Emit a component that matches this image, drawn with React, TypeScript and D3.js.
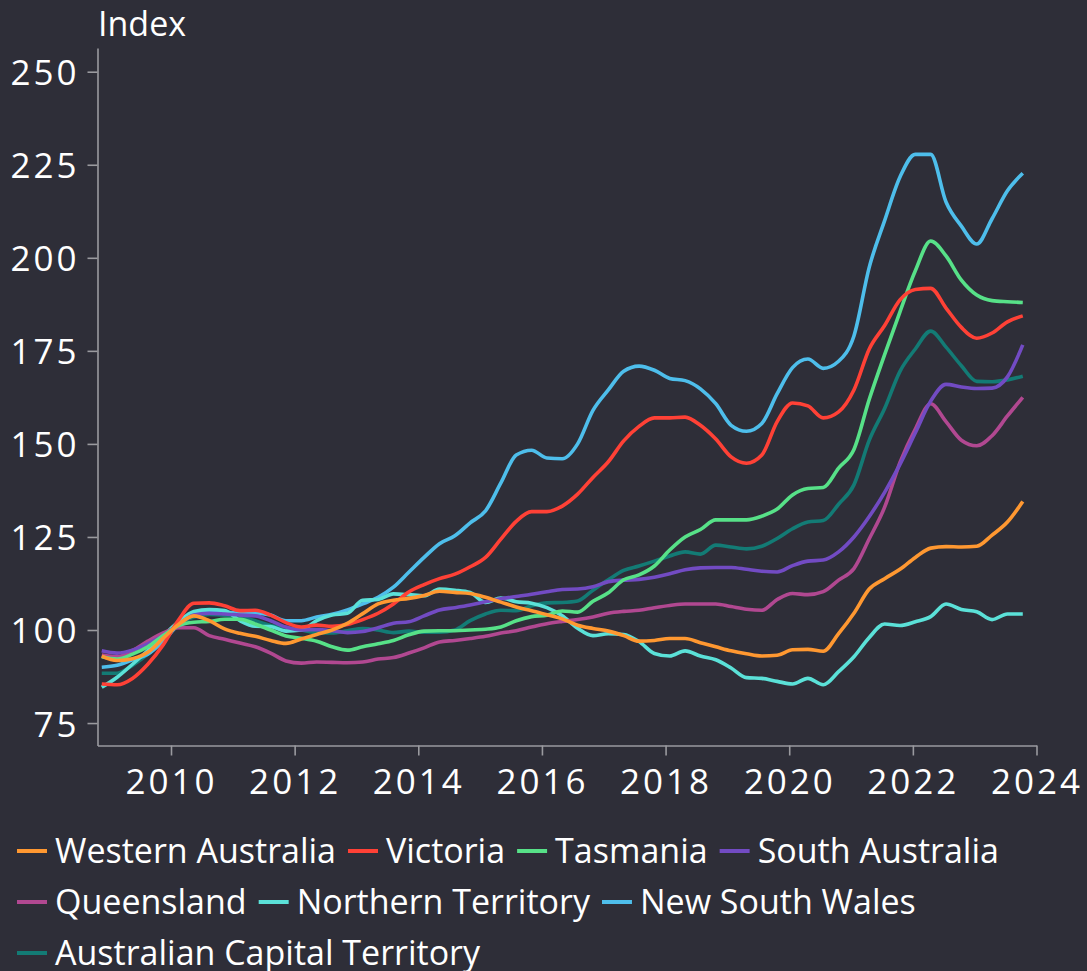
import React, { useEffect, useRef } from "react";
import * as d3 from "d3";

const W = 1087;
const H = 971;

// quarterly sample positions (decimal years), Nov 2008 .. Oct 2023
const time: number[] = d3.range(61).map((i) => 2008.88 + i * 0.2483);

const yearTicks = [2010, 2012, 2014, 2016, 2018, 2020, 2022, 2024];
const indexTicks = [75, 100, 125, 150, 175, 200, 225, 250];

const westernAustralia = [
  93, 91.8, 92.3, 94, 97.8, 101.5, 103.8, 102.5, 100.3, 99.1, 98.3, 97.2, 96.4, 97.6, 98.8, 100,
  101.8, 104.4, 107, 108, 108.5, 109.3, 110.4, 110.1, 109.8, 108.8, 107.5, 106.2, 105.2, 104.1,
  103, 101.3, 100.4, 99.7, 98.5, 97, 97.2, 97.7, 97.7, 96.6, 95.5, 94.4, 93.6, 93, 93.2, 94.7,
  94.8, 94.3, 99, 104.5, 111, 113.8, 116.3, 119.5, 122, 122.4, 122.3, 122.5, 125.5, 129, 134.5,
];
const victoria = [
  85.5, 85.3, 87, 90.8, 96, 102.7, 107.2, 107.3, 106.5, 105.2, 105.3, 104, 102, 100.8, 101.3, 101,
  101.5, 102.8, 104.5, 107, 110.2, 112.2, 113.8, 115, 117, 119.5, 124.4, 129.2, 131.8, 131.8,
  133.3, 136.5, 141, 145.2, 150.8, 154.7, 157, 157, 157.2, 155, 151.3, 146.5, 144.8, 147, 156, 161,
  160.2, 157, 158.6, 164.5, 175.5, 181.8, 188.7, 191.5, 191.8, 186.5, 181.3, 178.4, 179.8, 182.8,
  184.4,
];
const tasmania = [
  92.8, 92.2, 93.5, 95.5, 98.5, 101.2, 102.1, 102.3, 102.9, 102.9, 101.6, 100, 98.4, 97.8, 97, 95.5,
  94.6, 95.5, 96.3, 97.2, 98.7, 99.7, 99.8, 99.8, 100, 100.2, 100.8, 102.5, 103.6, 104, 105.1,
  104.8, 107.7, 110, 113.5, 114.8, 117.2, 121.5, 125, 127, 129.6, 129.6, 129.6, 130.6, 132.5, 136.3,
  138, 138.3, 143.5, 148.5, 162, 174, 185.5, 196.5, 204.5, 200.5, 194, 190, 188.5, 188.2, 188,
];
const southAustralia = [
  94.4, 93.8, 94.6, 96.3, 98.5, 101.5, 104, 104.5, 104.3, 104, 103.8, 102.5, 100.8, 100, 100.1,
  99.8, 99.3, 99.6, 100.6, 101.8, 102.2, 103.8, 105.4, 106, 106.7, 107.6, 108.4, 109, 109.6, 110.3,
  110.9, 111, 111.6, 113, 113.4, 113.6, 114.2, 115.1, 116.2, 116.7, 116.8, 116.8, 116.3, 115.8,
  115.6, 117.3, 118.5, 118.8, 121, 125, 130.5, 137, 144.5, 153, 161.5, 166, 165.3, 164.9, 165, 168,
  176.6,
];
const queensland = [
  93.3, 92.8, 94.5, 97, 99.2, 100.6, 100.6, 98.5, 97.5, 96.5, 95.5, 93.8, 91.7, 91.1, 91.4, 91.3,
  91.2, 91.4, 92.2, 92.6, 93.8, 95.2, 96.8, 97.2, 97.7, 98.3, 99.2, 99.8, 100.8, 101.7, 102.3,
  102.8, 103.5, 104.5, 105, 105.3, 106, 106.6, 107, 107, 107, 106.3, 105.6, 105.3, 108.2, 109.8,
  109.5, 110.3, 113.4, 116.5, 124.5, 133, 145, 154, 160.8, 156, 151, 149.5, 152.2, 157.5, 162.5,
];
const northernTerritory = [
  84.6, 87.3, 90.8, 94.5, 98.5, 102.2, 105, 105.5, 105.2, 102.5, 101, 100.9, 99.7, 100, 102.5, 104,
  104.5, 108, 108.2, 109.7, 109.5, 109.2, 111, 110.7, 110.1, 107.4, 108.6, 107.6, 107.2, 106, 103.8,
  100.5, 98.5, 99, 98.8, 96.9, 93.7, 93, 94.4, 93, 92, 89.8, 87.2, 87, 86.2, 85.5, 87, 85.3, 88.8,
  92.8, 98, 101.6, 101.2, 102.2, 103.6, 107, 105.5, 104.9, 102.8, 104.3, 104.3,
];
const newSouthWales = [
  90, 90.5, 92, 93.5, 97, 101.5, 104.5, 105, 104.8, 104.5, 104.5, 104, 102.5, 102.5, 103.5, 104.2,
  105.4, 107, 108.8, 111.5, 115.5, 119.5, 123.2, 125.3, 128.8, 132, 139.5, 147, 148.3, 146.2, 146,
  150, 159, 164.5, 169.5, 170.9, 169.8, 167.6, 167, 164.8, 160.8, 155, 153.4, 155.5, 163.5, 170.5,
  172.8, 170.3, 172.2, 179, 197.5, 210, 221.7, 227.8, 227.8, 215, 208.5, 203.7, 210.5, 218, 222.7,
];
const australianCapitalTerritory = [
  88.4, 88.4, 90.5, 93.5, 97.5, 101.5, 103.5, 104.2, 104, 103.5, 102.5, 101.2, 100.5, 100, 99.3,
  99.2, 99.8, 100.4, 100, 99.3, 99.7, 99.4, 99.4, 100, 102.5, 104.3, 105.3, 105.2, 106.5, 107.3,
  107.4, 107.8, 110.7, 113.5, 116, 117.2, 118.5, 119.9, 121, 120.4, 122.8, 122.3, 121.8, 122.5,
  124.6, 127.2, 129, 129.4, 133.8, 139, 151, 159.5, 169.5, 175.5, 180.3, 176, 171, 166.8, 166.7,
  167.2, 168.2,
];

const seriesNames = [
  "Western Australia",
  "Victoria",
  "Tasmania",
  "South Australia",
  "Queensland",
  "Northern Territory",
  "New South Wales",
  "Australian Capital Territory",
];
const seriesColors = [
  "#FF9831",
  "#FF4136",
  "#57E188",
  "#724BC3",
  "#B14891",
  "#5BE1D8",
  "#4EBEEB",
  "#137B75",
];
const seriesValues = [
  westernAustralia,
  victoria,
  tasmania,
  southAustralia,
  queensland,
  northernTerritory,
  newSouthWales,
  australianCapitalTerritory,
];

const BG = "#2E2E38";
const AXIS = "#9A9A9F";
const FONT = "'Open Sans', 'DejaVu Sans', sans-serif";

export default function App() {
  const ref = useRef<SVGSVGElement | null>(null);

  useEffect(() => {
    const svg = d3.select(ref.current);
    svg.selectAll("*").remove();

    svg.append("rect").attr("width", W).attr("height", H).attr("fill", BG);

    const x = d3.scaleLinear().domain([2008.811, 2024]).range([97.5, 1036.5]);
    const y = d3.scaleLinear().domain([68.97, 256.37]).range([745.5, 48]);

    // y axis
    const gy = svg
      .append("g")
      .attr("transform", "translate(97.5,0)")
      .call(
        d3
          .axisLeft(y)
          .tickValues(indexTicks)
          .tickSize(10)
          .tickSizeOuter(0)
          .tickPadding(8)
          .tickFormat(d3.format("d"))
      );
    // x axis
    const gx = svg
      .append("g")
      .attr("transform", "translate(0,745.5)")
      .call(
        d3
          .axisBottom(x)
          .tickValues(yearTicks)
          .tickSize(10)
          .tickSizeOuter(0)
          .tickPadding(14)
          .tickFormat(d3.format("d"))
      );

    [gx, gy].forEach((g) => {
      g.select(".domain").attr("stroke", AXIS).attr("stroke-width", 1.6);
      g.selectAll(".tick line").attr("stroke", AXIS).attr("stroke-width", 1.6);
      g.selectAll(".tick text")
        .attr("fill", "#FFFFFF")
        .style("font-family", FONT)
        .style("font-size", "35px")
        .style("letter-spacing", "3px");
    });
    gy.selectAll(".tick text").attr("dy", "0.37em");

    // Index label
    svg
      .append("text")
      .attr("x", 98)
      .attr("y", 36)
      .attr("fill", "#FFFFFF")
      .style("font-family", FONT)
      .style("font-size", "34px")
      .text("Index");

    // lines (drawn in reverse legend order so Western Australia sits on top)
    const line = d3
      .line<number>()
      .x((_, i) => x(time[i]))
      .y((d) => y(d))
      .curve(d3.curveMonotoneX);

    const order = d3.range(seriesNames.length).reverse();
    order.forEach((k) => {
      svg
        .append("path")
        .datum(seriesValues[k])
        .attr("fill", "none")
        .attr("stroke", seriesColors[k])
        .attr("stroke-width", 3.6)
        .attr("stroke-linejoin", "round")
        .attr("d", line);
    });

    // legend
    const legend = svg.append("g");
    let cx = 17;
    let row = 0;
    seriesNames.forEach((name, k) => {
      const g = legend.append("g");
      const t = g
        .append("text")
        .attr("x", 38)
        .attr("y", 0)
        .attr("fill", "#FFFFFF")
        .style("font-family", FONT)
        .style("font-size", "34px")
        .text(name);
      const w = (t.node() as SVGTextElement).getComputedTextLength();
      if (cx > 17 && cx + 38 + w > W - 4) {
        row += 1;
        cx = 17;
      }
      const base = 863 + row * 51;
      g.attr("transform", `translate(${cx},${base})`);
      g.append("line")
        .attr("x1", 0)
        .attr("x2", 30)
        .attr("y1", -12)
        .attr("y2", -12)
        .attr("stroke", seriesColors[k])
        .attr("stroke-width", 4);
      cx += 38 + w + 12;
    });
  }, []);

  return (
    <svg
      ref={ref}
      width={W}
      height={H}
      style={{ position: "absolute", left: 0, top: 0, display: "block" }}
    />
  );
}
